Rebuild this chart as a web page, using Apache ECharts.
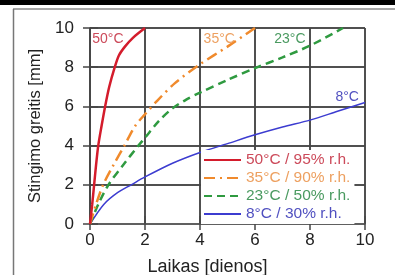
<!DOCTYPE html>
<html>
<head>
<meta charset="utf-8">
<script src="https://cdn.jsdelivr.net/npm/echarts@6/dist/echarts.min.js"></script>
<style>
  html, body { margin: 0; padding: 0; background: #fff; }
  #chart { width: 395px; height: 275px; }
</style>
</head>
<body>
<div id="chart"></div>
<script>
// points: [days, mm]
const red50 = [[0,0],[0.08,1],[0.15,2],[0.22,3],[0.3,4],[0.42,5],[0.55,6],[0.7,7],[0.9,8],[1.05,8.6],[1.27,9.05],[1.56,9.5],[2,10]];
const orange35 = [[0,0],[0.22,1],[0.48,2],[0.85,3],[1.25,4],[1.64,5],[2,5.6],[2.45,6.3],[3.1,7.2],[4,8.15],[5,9.05],[6,10]];
const green23 = [[0,0],[0.3,1],[0.67,2],[1.2,3],[1.76,4],[2,4.4],[2.5,5.25],[3,5.9],[3.5,6.35],[4,6.7],[5,7.35],[6,7.95],[7,8.5],[8,9.1],[9.2,10]];
const blue8 = [[0,0],[0.5,1.0],[1.0,1.6],[1.5,2.0],[2,2.4],[3,3.1],[4,3.65],[5,4.1],[6,4.55],[7,4.95],[8,5.3],[9,5.75],[10,6.2]];

const legendNames = ["50°C / 95% r.h.", "35°C / 90% r.h.", "23°C / 50% r.h.", "8°C / 30% r.h."];
const curveTags = ["50°C", "35°C", "23°C", "8°C"];
const tagPos = [[0.65, 9.45], [4.7, 9.45], [7.27, 9.45], [9.35, 6.45]];

const lineColors = ["#d41c2c", "#f08a2c", "#2f9a40", "#3c3cd0"];
const textColors = ["#cc4a5a", "#eda060", "#4a9a60", "#5050c0"];

const gridColor = "#454545";
const font = "Liberation Sans, Arial, sans-serif";

const chart = echarts.init(document.getElementById("chart"));

function tag(i) {
  return {
    symbol: "rect",
    symbolSize: [36, 16],
    silent: true,
    itemStyle: { color: "rgba(255,255,255,0)" },
    data: [{ coord: tagPos[i] }],
    label: {
      show: true,
      position: "inside",
      formatter: curveTags[i],
      color: textColors[i],
      fontSize: 14,
      fontFamily: font
    }
  };
}

const gridLine = { show: true, lineStyle: { color: gridColor, width: 1.5 } };

chart.setOption({
  backgroundColor: "#fff",
  animation: false,
  grid: { left: 90, right: 30, top: 28, bottom: 51, containLabel: false, outerBoundsMode: "none" },
  graphic: [
    { type: "rect", shape: { x: 0, y: 0, width: 395, height: 5 }, style: { fill: "#000" } },
    { type: "line", shape: { x1: 13, y1: 9, x2: 395, y2: 9 }, style: { stroke: "#888", lineWidth: 1.5 } },
    { type: "line", shape: { x1: 13.5, y1: 9, x2: 13.5, y2: 275 }, style: { stroke: "#777", lineWidth: 1.5 } }
  ],
  legend: {
    orient: "vertical",
    left: 201,
    top: 150,
    padding: [2, 4, 2, 2],
    backgroundColor: "#fff",
    itemWidth: 37,
    itemHeight: 10,
    itemGap: 2,
    selectedMode: false,
    itemStyle: { opacity: 0 },
    data: legendNames.map((n, i) => ({
      name: n,
      textStyle: { color: textColors[i], fontSize: 15.5, fontFamily: font, lineHeight: 15 }
    }))
  },
  xAxis: [
    {
      type: "value", min: 0, max: 10, interval: 2,
      axisLine: { show: true, lineStyle: { color: "#666", width: 1.5 } },
      axisTick: { show: true, length: 6, lineStyle: { color: gridColor, width: 1.5 } },
      splitLine: gridLine,
      axisLabel: { color: "#222", fontSize: 17, fontFamily: font, margin: 8 },
      name: "Laikas [dienos]",
      nameLocation: "middle",
      nameGap: 34,
      nameTextStyle: { color: "#222", fontSize: 18, fontFamily: font, padding: [0, 40, 0, 0] }
    },
    {
      type: "value", min: 0, max: 10, interval: 2, position: "top",
      axisLine: { show: false },
      axisTick: { show: true, length: 8, lineStyle: { color: gridColor, width: 1.5 } },
      axisLabel: { show: false },
      splitLine: gridLine
    }
  ],
  yAxis: [
    {
      type: "value", min: 0, max: 10, interval: 2,
      axisLine: { show: true, lineStyle: { color: gridColor, width: 1.5 } },
      axisTick: { show: true, length: 7, lineStyle: { color: gridColor, width: 1.5 } },
      splitLine: gridLine,
      axisLabel: { color: "#222", fontSize: 17, fontFamily: font, margin: 16 },
      name: "Stingimo greitis [mm]",
      nameLocation: "middle",
      nameGap: 33,
      nameTextStyle: { color: "#222", fontSize: 16.5, fontFamily: font, padding: [0, 0, 12, 0] }
    },
    {
      type: "value", min: 0, max: 10, interval: 2, position: "right",
      axisLine: { show: false },
      axisTick: { show: true, length: 8, lineStyle: { color: gridColor, width: 1.5 } },
      axisLabel: { show: false },
      splitLine: gridLine
    }
  ],
  series: [
    {
      name: legendNames[0], type: "line", data: red50, smooth: 0.3, symbol: "none",
      lineStyle: { color: lineColors[0], width: 2.5 }, itemStyle: { color: lineColors[0] },
      markPoint: tag(0), z: 5
    },
    {
      name: legendNames[1], type: "line", data: orange35, smooth: 0.3, symbol: "none",
      lineStyle: { color: lineColors[1], width: 2.5, type: [11, 5, 2, 5] }, itemStyle: { color: lineColors[1] },
      markPoint: tag(1), z: 4
    },
    {
      name: legendNames[2], type: "line", data: green23, smooth: 0.3, symbol: "none",
      lineStyle: { color: lineColors[2], width: 2.5, type: [8, 5] }, itemStyle: { color: lineColors[2] },
      markPoint: tag(2), z: 3
    },
    {
      name: legendNames[3], type: "line", data: blue8, smooth: 0.3, symbol: "none",
      lineStyle: { color: lineColors[3], width: 1.5 }, itemStyle: { color: lineColors[3] },
      markPoint: tag(3), z: 2
    }
  ]
});
</script>
</body>
</html>
